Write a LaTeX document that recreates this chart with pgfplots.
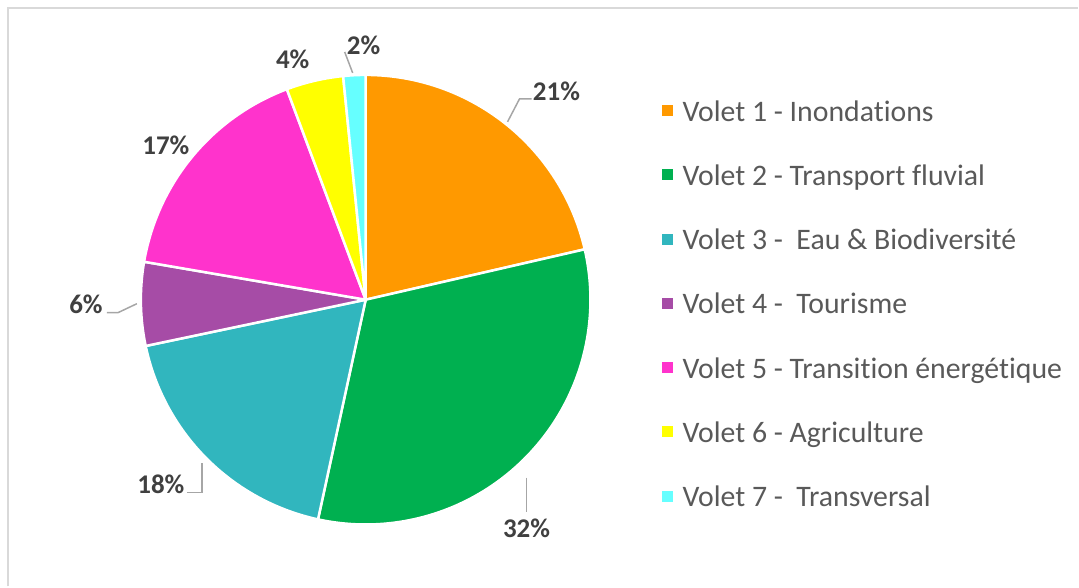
\documentclass[border=0pt]{standalone}
\usepackage{pgfplots}
\pgfplotsset{compat=1.18}
\usepackage{pgfplotstable}
\usepackage{fontspec}
\setmainfont{Carlito}[Ligatures=NoCommon]
\definecolor{pie0}{HTML}{FF9900}
\definecolor{pie1}{HTML}{00B050}
\definecolor{pie2}{HTML}{31B6BE}
\definecolor{pie3}{HTML}{A64CA6}
\definecolor{pie4}{HTML}{FF33CC}
\definecolor{pie5}{HTML}{FFFF00}
\definecolor{pie6}{HTML}{66FFFF}
\definecolor{lbl}{HTML}{404040}
\definecolor{legtxt}{HTML}{595959}
\definecolor{leader}{HTML}{A6A6A6}
\definecolor{frame}{HTML}{D9D9D9}

% share of each Volet, in percent
\pgfplotstableread{
idx value
1 21.4
2 32.0
3 18.3
4 6.0
5 16.6
6 4.1
7 1.6
}\piedata

\begin{document}
\begin{tikzpicture}
% cumulative start/end angles (clockwise from the top)
\def\cum{0}
\pgfplotsforeachungrouped \i in {0,...,6}{%
  \pgfplotstablegetelem{\i}{value}\of\piedata
  \pgfmathsetmacro\sa{90-3.6*\cum}%
  \pgfmathsetmacro\cumnew{\cum+\pgfplotsretval}%
  \pgfmathsetmacro\sb{90-3.6*\cumnew}%
  \expandafter\xdef\csname sa\i\endcsname{\sa}%
  \expandafter\xdef\csname sb\i\endcsname{\sb}%
  \xdef\cum{\cumnew}%
}
\begin{axis}[
  scale only axis, width=1079pt, height=587pt,
  xmin=0, xmax=1079, ymin=0, ymax=587,
  hide axis, clip=false,
  legend style={at={(axis cs:659,491)}, anchor=north west, draw=none, fill=none,
    font=\fontsize{29.8}{34}\selectfont, text=legtxt, row sep=32.3pt,
    nodes={text height=21pt, text depth=7pt, inner sep=2pt}},
  legend cell align=left,
  legend image code/.code={\fill[#1, draw=none] (0pt,-2pt) rectangle (11pt,9pt);
    \path[draw=none, fill=none] (0pt,0pt) -- (19pt,0pt);},
]
\path (axis cs:0,0) rectangle (axis cs:1079,587);
\draw[frame, line width=2pt] (axis cs:8,0) -- (axis cs:8,579) -- (axis cs:1079,579);

\pgfplotsinvokeforeach{0,...,6}{
  \addplot[fill=pie#1, draw=white, line width=2.5pt, line join=round,
    domain=\csname sb#1\endcsname:\csname sa#1\endcsname, samples=90, variable=\t]
    ({366+225*cos(\t)},{287+225*sin(\t)}) -- (axis cs:366,287) -- cycle;
}
\legend{Volet 1 - Inondations, Volet 2 - Transport fluvial,
  Volet 3 -\ \ Eau \& Biodiversité, Volet 4 -\ \ Tourisme,
  Volet 5 - Transition énergétique, Volet 6 - Agriculture,
  Volet 7 -\ \ Transversal}

% leader lines
\addplot[leader, line width=1.5pt, forget plot] coordinates {(345,535) (353,514)};
\addplot[leader, line width=1.5pt, forget plot] coordinates {(532,488) (520,488) (508,465)};
\addplot[leader, line width=1.5pt, forget plot] coordinates {(107,274) (118,274) (137,283)};
\addplot[leader, line width=1.5pt, forget plot] coordinates {(187,94) (202,94) (202,124)};
\addplot[leader, line width=1.5pt, forget plot] coordinates {(527,109) (527,75)};

% data labels
\begin{scope}[every node/.style={text=lbl, font=\fontsize{27}{32}\selectfont\bfseries}]
\node at (axis cs:364,542) {2\%};
\node at (axis cs:293,528) {4\%};
\node at (axis cs:557,496) {21\%};
\node at (axis cs:86,282) {6\%};
\node at (axis cs:161,102) {18\%};
\node at (axis cs:527,58) {32\%};
\node at (axis cs:166,442) {17\%};
\end{scope}
\end{axis}
\end{tikzpicture}
\end{document}
